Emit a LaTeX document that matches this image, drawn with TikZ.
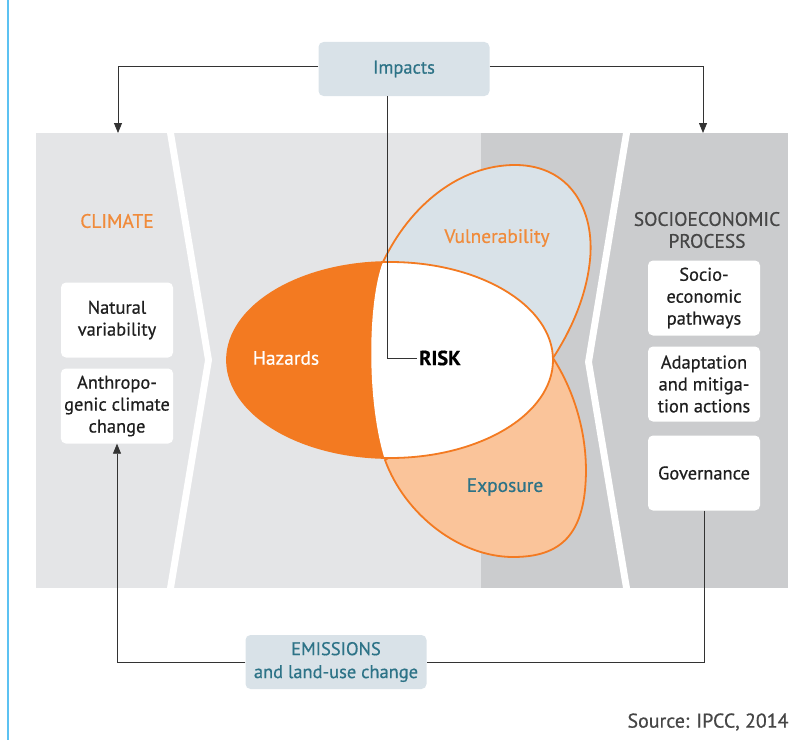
\documentclass[tikz,border=0pt]{standalone}
\usepackage{fontspec}
\setmainfont{PT Sans}[FakeBold=0.6]
\usetikzlibrary{positioning, calc, arrows.meta}

\definecolor{panellight}{HTML}{E4E5E7}
\definecolor{paneldark}{HTML}{CBCCCE}
\definecolor{tagblue}{HTML}{D9E2E8}
\definecolor{tealtext}{HTML}{2D7387}
\definecolor{hazard}{HTML}{F37A21}
\definecolor{peach}{HTML}{FAC49A}
\definecolor{labelorange}{HTML}{F08B3B}
\definecolor{greytext}{HTML}{464646}
\definecolor{rulebar}{HTML}{5CC2F2}

\begin{document}
\begin{tikzpicture}[x=1bp, y=-1bp,
    card/.style={fill=white, rounded corners=5bp, minimum width=112bp,
                 minimum height=75bp, align=center, text=black!88,
                 font=\fontsize{18.5}{22}\selectfont},
    tag/.style={fill=tagblue, rounded corners=5bp, align=center,
                text=tealtext, font=\fontsize{18.5}{23}\selectfont},
    lbl/.style={font=\fontsize{19.5}{22}\selectfont},
    link/.style={draw=black!80, line width=0.8bp},
    arrowed/.style={-{Triangle[length=10bp,width=8bp]}},
    petal/.style={draw=hazard, line width=1.8bp}]
  \useasboundingbox (0,0) rectangle (809,740);
  \draw[rulebar, line width=2bp] (8,0) -- (8,740);

  % background panels and the two chevron gaps
  \fill[panellight] (36,133) rectangle (481,588);
  \fill[paneldark]  (481,133) rectangle (788,588);
  \fill[white] (167,133) -- (174,133) -- (212,360) -- (174,588)
               -- (167,588) -- (205,360) -- cycle;
  \fill[white] (623,133) -- (630,133) -- (592,362) -- (630,588)
               -- (623,588) -- (585,362) -- cycle;

  % petals
  \filldraw[petal, fill=tagblue] (383,262) .. controls (410,205) and (460,165) .. (515,165)
      .. controls (570,165) and (595,210) .. (590,260)
      .. controls (586,300) and (568,335) .. (553,358) -- cycle;
  \filldraw[petal, fill=peach] (553,358) .. controls (575,392) and (590,440) .. (585,490)
      .. controls (580,540) and (555,557) .. (513,557)
      .. controls (460,557) and (405,515) .. (385,460) -- cycle;
  \fill[hazard] (390,360) ellipse [x radius=163bp, y radius=98bp];
  \begin{scope}
    \clip (390,360) ellipse [x radius=163bp, y radius=98bp];
    \fill[white] (386,240) -- (383,262) .. controls (368,300) and (366,400) .. (385,460)
                 -- (388,480) -- (600,480) -- (600,240) -- cycle;
  \end{scope}
  \draw[petal] (390,360) ellipse [x radius=163bp, y radius=98bp];

  % labels
  \node[lbl, labelorange] (climate) at (117,221) {CLIMATE};
  \node[lbl, greytext, align=center] (socio) at (707,230) {SOCIOECONOMIC\\PROCESS};
  \node[lbl, labelorange] (vuln) at (497,238) {Vulnerability};
  \node[lbl, white] (haz) at (286,358) {Hazards};
  \node[lbl, tealtext] (expo) at (505,487) {Exposure};
  \node[anchor=west, inner sep=2bp, font=\bfseries\fontsize{20.5}{22}\selectfont] (risk)
      at (417,358) {RISK};

  % boxes
  \node[card] (natural) at (117,320) {Natural\\variability};
  \node[card] (anthro) at (117,406) {Anthropo-\\genic climate\\change};
  \node[card] (pathways) at (704,298) {Socio-\\economic\\pathways};
  \node[card] (adapt) at (704,384) {Adaptation\\and mitiga-\\tion actions};
  \node[card] (gov) at (704,473) {Governance};
  \node[tag, minimum width=171bp, minimum height=54bp] (impacts) at (404,69) {Impacts};
  \node[tag, minimum width=181bp, minimum height=54bp] (emissions) at (336,662)
      {EMISSIONS\\and land-use change};

  \coordinate (climtop) at (118,133);
  \coordinate (sociotop) at (703,133);
  \coordinate (riskbend) at (387,358);

  % connectors
  \draw[link, arrowed] ([yshift=3bp]impacts.west) -| (climtop);
  \draw[link, arrowed] ([yshift=3bp]impacts.east) -| (sociotop);
  \draw[link] (impacts.south -| riskbend) |- (risk.west);
  \draw[link] (gov.south) |- (emissions.east);
  \draw[link, arrowed] (emissions.west) -| (anthro.south);

  \node[anchor=east, text=greytext, font=\fontsize{20}{22}\selectfont] (source)
      at (792,722) {Source: IPCC, 2014};
\end{tikzpicture}
\end{document}
